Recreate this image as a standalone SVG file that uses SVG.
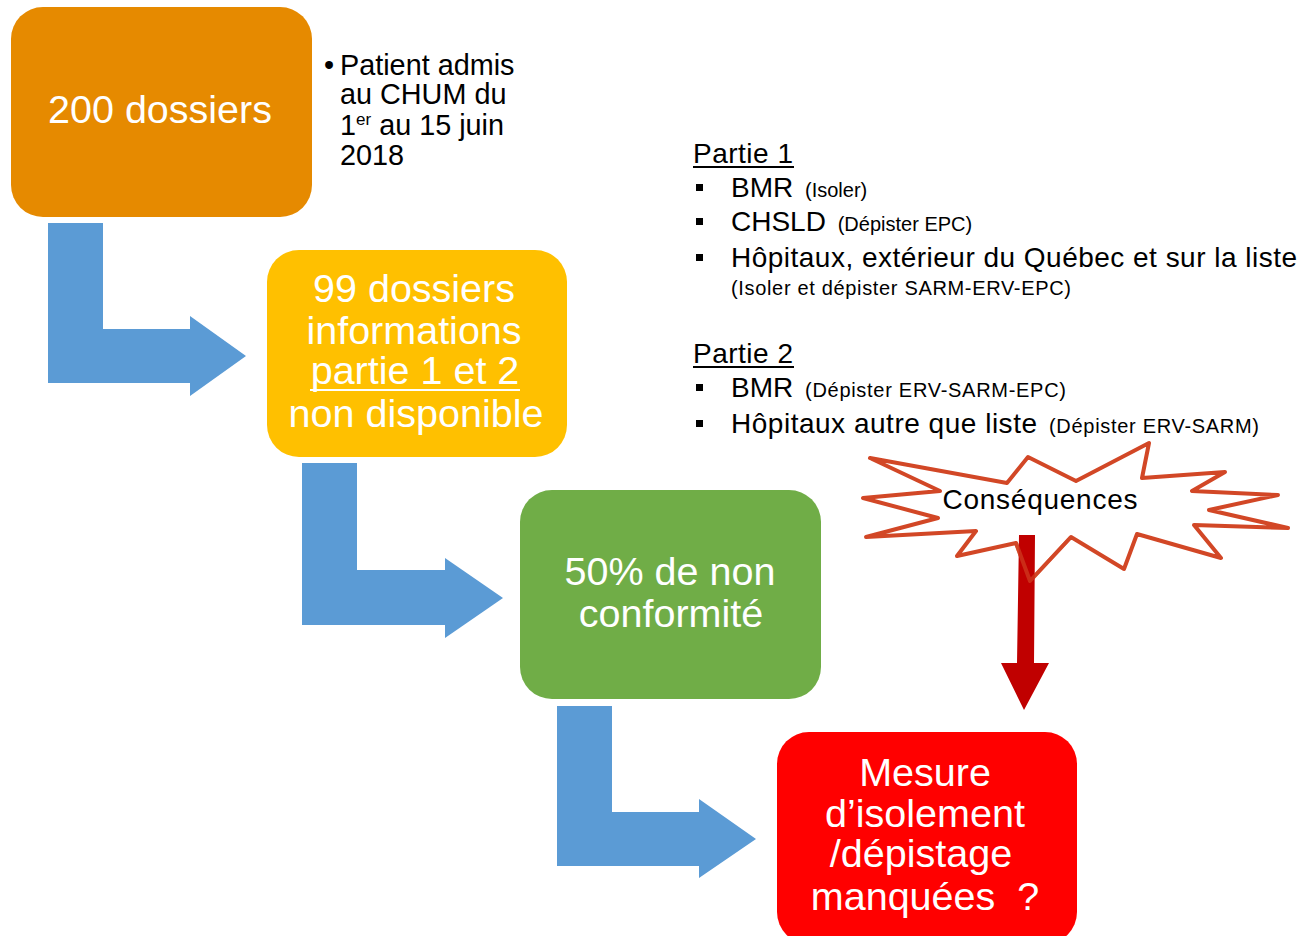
<svg xmlns="http://www.w3.org/2000/svg" width="1305" height="936" viewBox="0 0 1305 936">
<style>
text{font-family:"Liberation Sans",Arial,sans-serif}
.bt{fill:#fff;font-size:39.5px;text-anchor:middle}
.bl{fill:#000;font-size:28px}
.pt{fill:#000;font-size:28.8px}
.sm{fill:#000;font-size:20px}
.blue{fill:#5B9BD5}
</style>
<rect width="1305" height="936" fill="#fff"/>
<g id="connectors">
<path class="blue" d="M48,223 H103 V329 H190 V316 L246,356 L190,396 V383 H48 Z"/>
<path class="blue" d="M302,463 H357 V570 H445 V558 L503,598 L445,638 V625 H302 Z"/>
<path class="blue" d="M557,706 H612 V812 H699 V799 L756,839 L699,878 V866 H557 Z"/>
</g>
<g id="node-200">
<rect x="11" y="7" width="301" height="210" rx="32" fill="#E68A00"/>
<text class="bt" x="160" y="123">200 dossiers</text>
</g>
<g id="patient-note">
<text class="pt" x="324" y="75">•</text>
<text class="pt" x="340" y="75">Patient admis</text>
<text class="pt" x="340" y="104">au CHUM du</text>
<text class="pt" x="340" y="135">1<tspan font-size="17px" dy="-10">er</tspan><tspan dy="10"> au 15 juin</tspan></text>
<text class="pt" x="340" y="165">2018</text>
</g>
<g id="node-99">
<rect x="267" y="250" width="300" height="207" rx="32" fill="#FFC000"/>
<text class="bt" x="414" y="302">99 dossiers</text>
<text class="bt" x="414" y="344">informations</text>
<text class="bt" x="415" y="384">partie 1 et 2</text>
<rect x="310" y="389" width="210" height="2" fill="#fff"/>
<text class="bt" x="416" y="427">non disponible</text>
</g>
<g id="node-50">
<rect x="520" y="490" width="301" height="209" rx="32" fill="#70AD47"/>
<text class="bt" x="670" y="585">50% de non</text>
<text class="bt" x="671" y="627">conformité</text>
</g>
<g id="node-mesure">
<rect x="777" y="732" width="300" height="212" rx="32" fill="#FF0000"/>
<text class="bt" x="925" y="786">Mesure</text>
<text class="bt" x="925" y="827">d’isolement</text>
<text class="bt" x="921" y="867">/dépistage</text>
<text class="bt" x="925" y="910" xml:space="preserve">manquées  ?</text>
</g>
<g id="parties">
<text class="bl" x="693" y="163" textLength="100">Partie 1</text>
<rect x="693" y="166" width="101" height="2" fill="#000"/>
<rect x="696" y="184" width="7" height="7" fill="#000"/>
<text class="bl" x="731" y="197">BMR <tspan class="sm" dx="4">(Isoler)</tspan></text>
<rect x="696" y="218" width="7" height="7" fill="#000"/>
<text class="bl" x="731" y="231">CHSLD <tspan class="sm" dx="4">(Dépister EPC)</tspan></text>
<rect x="696" y="254" width="7" height="7" fill="#000"/>
<text class="bl" x="731" y="267" textLength="566">Hôpitaux, extérieur du Québec et sur la liste</text>
<text class="sm" x="731" y="295" textLength="340">(Isoler et dépister SARM-ERV-EPC)</text>
<text class="bl" x="693" y="363" textLength="100">Partie 2</text>
<rect x="693" y="366" width="101" height="2" fill="#000"/>
<rect x="696" y="384" width="7" height="7" fill="#000"/>
<text class="bl" x="731" y="397">BMR</text>
<text class="sm" x="805" y="397" textLength="261">(Dépister ERV-SARM-EPC)</text>
<rect x="696" y="420" width="7" height="7" fill="#000"/>
<text class="bl" x="731" y="433" textLength="306">Hôpitaux autre que liste</text>
<text class="sm" x="1049" y="433" textLength="210">(Dépister ERV-SARM)</text>
</g>
<g id="consequences">
<polygon points="870,458 1007,483 1028,457 1076,481 1149,443 1142,478 1225,472 1192,491 1278,495 1209,510 1288,528 1194,525 1221,558 1137,534 1124,569 1071,537 1030,581 1016,543 957,556 976,531 866,537 938,518 863,498 940,491" fill="#fff" stroke="#D24726" stroke-width="4" stroke-linejoin="round"/>
<text x="1040" y="509" font-size="28px" text-anchor="middle" fill="#000" textLength="195">Conséquences</text>
<path d="M1019,535 H1035 L1034,663 H1049 L1024,710 L1001,663 H1017 Z" fill="#C00000"/>
<polyline points="1071,537 1030,581 1016,543" fill="none" stroke="#D24726" stroke-width="4" stroke-linejoin="round" opacity="0.6"/>
</g>
</svg>
